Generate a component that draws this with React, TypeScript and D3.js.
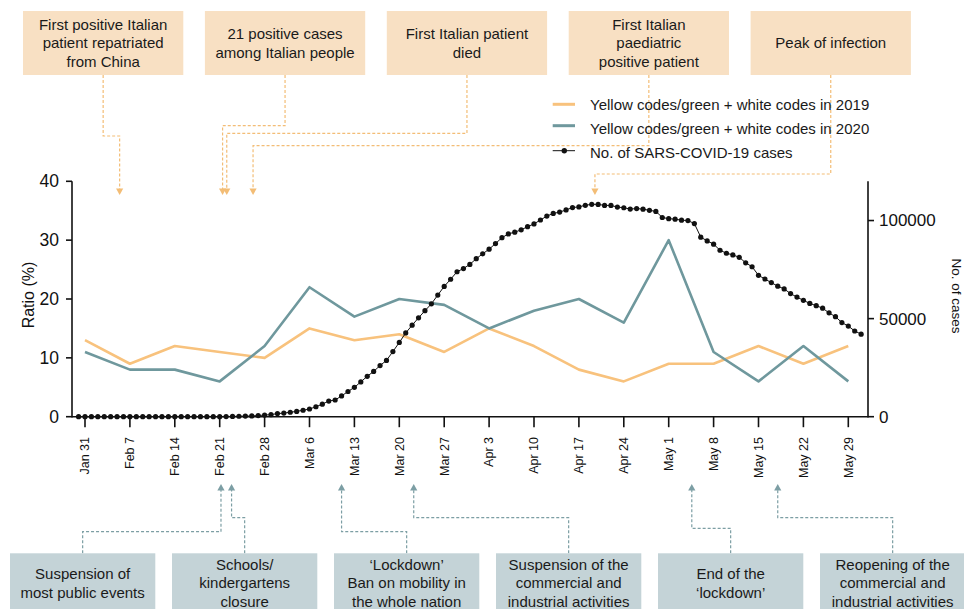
import React from "react";
import * as d3 from "d3";

// ---------- DATA ----------
const tickLabels = [
  "Jan 31", "Feb 7", "Feb 14", "Feb 21", "Feb 28", "Mar 6", "Mar 13", "Mar 20", "Mar 27",
  "Apr 3", "Apr 10", "Apr 17", "Apr 24", "May 1", "May 8", "May 15", "May 22", "May 29",
];
const ratio2019 = [13, 9, 12, 11, 10, 15, 13, 14, 11, 15, 12, 8, 6, 9, 9, 12, 9, 12];
const ratio2020 = [11, 8, 8, 6, 12, 22, 17, 20, 19, 15, 18, 20, 16, 30, 11, 6, 12, 6];

// daily number of (currently positive) cases, from Jan 30 to May 31
const casesStart = new Date(Date.UTC(2020, 0, 30));
const cases = [
  2, 2, 2, 2, 2, 2, 2, 3, 3, 3, 3, 3, 3, 3, 3, 3, 3, 3, 3, 3, 3, 3,
  20, 79, 150, 221, 311, 385, 588, 821, 1049,
  // March
  1577, 1835, 2263, 2706, 3296, 3916, 5061, 6387, 7985, 8514, 10590, 12839, 14955, 17750, 20603,
  23073, 26062, 28710, 33190, 37860, 42681, 46638, 50418, 54030, 57521, 62013, 66414, 70065,
  73880, 75528, 77635,
  // April
  80572, 83049, 85388, 88274, 91246, 93187, 94067, 95262, 96877, 98273, 100269, 102253, 103616,
  104291, 105418, 106607, 106962, 107771, 108257, 108237, 107709, 107699, 106848, 106527, 105847,
  106103, 105813, 105205, 104657, 101551,
  // May
  100943, 100704, 100179, 99980, 98467, 91528, 89624, 87961, 84842, 83324, 82488, 81266, 78457,
  76440, 72070, 70187, 68351, 66553, 65129, 62752, 60960, 59322, 57752, 56594, 55300, 52942,
  50966, 47986, 46175, 43691, 42075,
];

const legendLabels = [
  "Yellow codes/green + white codes in 2019",
  "Yellow codes/green + white codes in 2020",
  "No. of SARS-COVID-19 cases",
];

// events: text lines and day offset from Jan 31
const topEventLines = [
  ["First positive Italian", "patient repatriated", "from China"],
  ["21 positive cases", "among Italian people"],
  ["First Italian patient", "died"],
  ["First Italian", "paediatric", "positive patient"],
  ["Peak of infection"],
];
const topEventDays = [5.4, 21.45, 22.1, 26.2, 79.5];

const bottomEventLines = [
  ["Suspension of", "most public events"],
  ["Schools/", "kindergartens", "closure"],
  ["\u2018Lockdown\u2019", "Ban on mobility in", "the whole nation"],
  ["Suspension of the", "commercial and", "industrial activities"],
  ["End of the", "\u2018lockdown\u2019"],
  ["Reopening of the", "commercial and", "industrial activities"],
];
const bottomEventDays = [21.2, 22.85, 40.0, 51.25, 94.6, 108.0];

// ---------- LAYOUT / STYLE ----------
const W = 964;
const H = 609;
const FONT = "'Liberation Sans', Arial, Helvetica, sans-serif";
const ORANGE = "#F8C27D";
const TEAL = "#6F989D";
const TOP_BOX = "#F8E0C3";
const BOT_BOX = "#C4D3D7";
const ORANGE_DASH = "#F3BD76";
const TEAL_DASH = "#7C9EA4";

const topElbows = [136, 125.7, 133.3, 145.7, 174];
const bottomElbows = [531.7, 517.7, 531.7, 517.7, 528.3, 517.7];

const DAY = 864e5;
const firstTick = new Date(Date.UTC(2020, 0, 31));
const weekDates = tickLabels.map((_, i) => d3.utcDay.offset(firstTick, 7 * i));
const dayDate = (d: number) => new Date(firstTick.getTime() + d * DAY);

const x = d3.scaleUtc().domain([weekDates[0], weekDates[weekDates.length - 1]]).range([85, 848.3]);
const yL = d3.scaleLinear().domain([0, 40]).range([416.7, 181.3]);
const yR = d3.scaleLinear().domain([0, 120000]).range([416.7, 181.3]);

const AXL = 72;
const AXR = 868;
const AXB = yL(0);

export default function App() {
  const weekLine = d3
    .line<number>()
    .x((_, i) => x(weekDates[i]))
    .y((v) => yL(v));
  const caseDates = cases.map((_, i) => d3.utcDay.offset(casesStart, i));
  const caseLine = d3
    .line<number>()
    .x((_, i) => x(caseDates[i]))
    .y((v) => yR(v));

  const topW = 160.3;
  const topStep = 181.9;
  const topX0 = 23;
  const topY = 11;
  const topH = 64;
  const botW = 145.3;
  const botStep = 162;
  const botX0 = 10;
  const botY = 553.3;
  const botH = 60;
  const lh = 18.7;

  return (
    <svg
      width={W}
      height={H}
      style={{ position: "absolute", left: 0, top: 0, background: "#fff" }}
      fontFamily={FONT}
    >
      <rect x={0} y={0} width={W} height={H} fill="#fff" />

      {/* top connectors */}
      {topEventLines.map((_, i) => {
        const cx = topX0 + i * topStep + topW / 2;
        const ax = x(dayDate(topEventDays[i]));
        return (
          <g key={"tc" + i}>
            <path
              d={`M${cx},${topY + topH} V${topElbows[i]} H${ax} V189`}
              fill="none"
              stroke={ORANGE_DASH}
              strokeWidth={1.2}
              strokeDasharray="3,2"
            />
            <path d={`M${ax - 3.6},188.5 L${ax + 3.6},188.5 L${ax},195 Z`} fill={ORANGE_DASH} />
          </g>
        );
      })}

      {/* bottom connectors */}
      {bottomEventLines.map((_, i) => {
        const cx = botX0 + i * botStep + botW / 2;
        const ax = x(dayDate(bottomEventDays[i]));
        return (
          <g key={"bc" + i}>
            <path
              d={`M${cx},${botY} V${bottomElbows[i]} H${ax} V490`}
              fill="none"
              stroke={TEAL_DASH}
              strokeWidth={1.2}
              strokeDasharray="3,2"
            />
            <path d={`M${ax - 3.6},490.5 L${ax + 3.6},490.5 L${ax},484 Z`} fill={TEAL_DASH} />
          </g>
        );
      })}

      {/* top boxes */}
      {topEventLines.map((lines, i) => {
        const bx = topX0 + i * topStep;
        const cy = topY + topH / 2;
        return (
          <g key={"tb" + i}>
            <rect x={bx} y={topY} width={topW} height={topH} fill={TOP_BOX} />
            {lines.map((t, j) => (
              <text
                key={j}
                x={bx + topW / 2}
                y={cy + (j - (lines.length - 1) / 2) * lh}
                dy="0.35em"
                textAnchor="middle"
                fontSize={15}
                fill="#1a1a1a"
              >
                {t}
              </text>
            ))}
          </g>
        );
      })}

      {/* bottom boxes */}
      {bottomEventLines.map((lines, i) => {
        const bx = botX0 + i * botStep;
        const cy = 583;
        return (
          <g key={"bb" + i}>
            <rect x={bx} y={botY} width={botW} height={botH} fill={BOT_BOX} />
            {lines.map((t, j) => (
              <text
                key={j}
                x={bx + botW / 2}
                y={cy + (j - (lines.length - 1) / 2) * lh}
                dy="0.35em"
                textAnchor="middle"
                fontSize={15}
                fill="#1a1a1a"
              >
                {t}
              </text>
            ))}
          </g>
        );
      })}

      {/* legend */}
      <g>
        <line x1={552.7} x2={575} y1={104.3} y2={104.3} stroke={ORANGE} strokeWidth={3} />
        <line x1={552.7} x2={575} y1={125.7} y2={125.7} stroke={TEAL} strokeWidth={3} />
        <line x1={552.7} x2={575} y1={150.7} y2={150.7} stroke="#111" strokeWidth={1} />
        <circle cx={564.3} cy={150.7} r={2.7} fill="#111" />
        {legendLabels.map((t, i) => (
          <text
            key={t}
            x={590}
            y={[105, 129, 152.5][i]}
            dy="0.35em"
            fontSize={15}
            fill="#1a1a1a"
          >
            {t}
          </text>
        ))}
      </g>

      {/* weekly ratio lines */}
      <path d={weekLine(ratio2019) || ""} fill="none" stroke={ORANGE} strokeWidth={2.6} strokeLinejoin="round" />
      <path d={weekLine(ratio2020) || ""} fill="none" stroke={TEAL} strokeWidth={2.6} strokeLinejoin="round" />

      {/* axes */}
      <g stroke="#111" strokeWidth={1.6} fill="none">
        <line x1={AXL} x2={AXL} y1={yL(40)} y2={AXB + 0.8} />
        <line x1={AXR} x2={AXR} y1={yR(120000)} y2={AXB + 0.8} />
        <line x1={AXL} x2={AXR} y1={AXB} y2={AXB} />
        {yL.ticks(4).map((t) => (
          <line key={"lt" + t} x1={AXL - 6} x2={AXL} y1={yL(t)} y2={yL(t)} />
        ))}
        {[0, 50000, 100000].map((t) => (
          <line key={"rt" + t} x1={AXR} x2={AXR + 6} y1={yR(t)} y2={yR(t)} />
        ))}
        {weekDates.map((d, i) => (
          <line key={"bt" + i} x1={x(d)} x2={x(d)} y1={AXB} y2={AXB + 10.5} />
        ))}
      </g>
      {yL.ticks(4).map((t) => (
        <text key={"ll" + t} x={59} y={yL(t)} dy="0.35em" textAnchor="end" fontSize={17.5} fill="#111">
          {t}
        </text>
      ))}
      {[0, 50000, 100000].map((t) => (
        <text key={"rl" + t} x={879} y={yR(t)} dy="0.35em" textAnchor="start" fontSize={17} fill="#111">
          {d3.format("d")(t)}
        </text>
      ))}
      {weekDates.map((d, i) => (
        <text
          key={"xl" + i}
          transform={`translate(${x(d)},437) rotate(-90)`}
          dy="0.35em"
          textAnchor="end"
          fontSize={12.5}
          fill="#111"
        >
          {tickLabels[i]}
        </text>
      ))}
      <text transform="translate(28,295) rotate(-90)" dy="0.35em" textAnchor="middle" fontSize={16} fill="#111">
        Ratio (%)
      </text>
      <text transform="translate(957,296) rotate(90)" dy="0.35em" textAnchor="middle" fontSize={13.5} fill="#111">
        No. of cases
      </text>

      {/* cases line */}
      <path d={caseLine(cases) || ""} fill="none" stroke="#111" strokeWidth={1} />
      {cases.map((v, i) => (
        <circle key={"c" + i} cx={x(caseDates[i])} cy={yR(v)} r={2.6} fill="#111" />
      ))}
    </svg>
  );
}
